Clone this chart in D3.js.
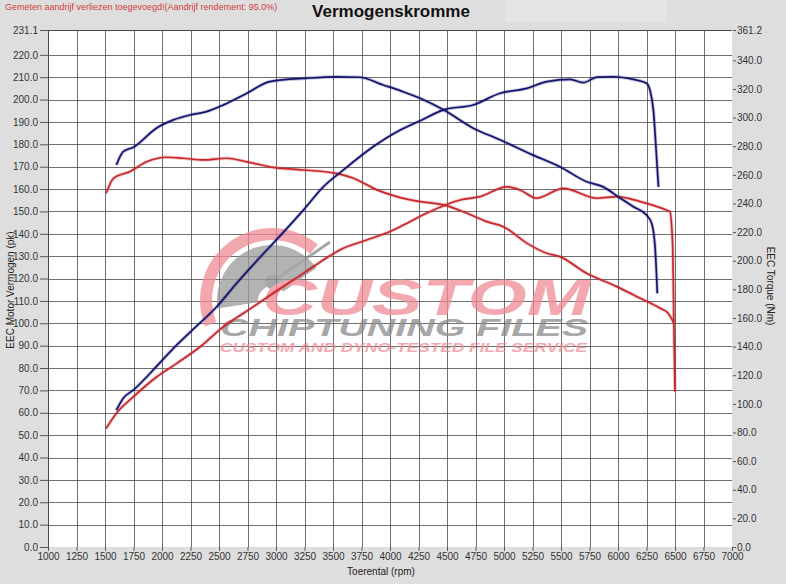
<!DOCTYPE html>
<html>
<head>
<meta charset="utf-8">
<style>
  body { margin: 0; background: #dedede; }
  svg { display: block; font-family: "Liberation Sans", Arial, sans-serif; }
  .tick text { fill: #333; font-size: 10px; }
  .tick line { stroke: #555; }
</style>
</head>
<body>
<svg width="786" height="584"></svg>
<script src="https://d3js.org/d3.v7.min.js"></script>
<script>

// blue = tuned, red = stock ; power in pk (left axis), torque in Nm (right axis)
var bluePowerRpm = [1600, 1660, 1750, 1950, 2100, 2250, 2480, 2655, 2860, 3005, 3240, 3415, 3590, 3855, 4090, 4265, 4470, 4730, 4965, 5200, 5375, 5580, 5695, 5815, 5960, 6135, 6250, 6280, 6310, 6340, 6355];
var bluePower    = [61.2, 66.5, 70.2, 80.6, 88.8, 96.2, 107.4, 117.9, 129.5, 137.4, 150.6, 161.0, 168.5, 179.0, 186.4, 190.5, 195.4, 197.6, 202.8, 205.0, 208.0, 209.0, 207.6, 210.0, 210.2, 209.0, 207.3, 204.3, 195.4, 173.0, 161.0];

var blueTorqueRpm = [1600, 1660, 1750, 1950, 2100, 2245, 2390, 2540, 2745, 2945, 3270, 3530, 3735, 3940, 4100, 4265, 4470, 4730, 4965, 5255, 5490, 5725, 5870, 6020, 6135, 6250, 6295, 6325, 6345];
var blueTorque    = [267.0, 276.2, 279.3, 292.6, 298.4, 301.8, 304.2, 308.9, 317.0, 325.1, 327.5, 328.5, 328.2, 322.8, 318.5, 313.5, 305.4, 292.6, 284.5, 273.8, 265.7, 255.2, 251.6, 243.7, 237.7, 231.9, 226.2, 209.8, 177.2];

var redPowerRpm = [1510, 1600, 1750, 1955, 2130, 2335, 2540, 2715, 2975, 3240, 3415, 3560, 3795, 4000, 4090, 4320, 4615, 4790, 5025, 5140, 5285, 5520, 5815, 5990, 6195, 6425, 6455, 6480, 6490, 6500];
var redPower    = [53.0, 59.8, 67.2, 76.1, 82.1, 89.5, 98.5, 104.5, 113.4, 122.3, 128.3, 132.8, 137.2, 141.0, 143.2, 149.2, 155.1, 156.6, 161.0, 159.6, 155.9, 160.3, 155.9, 156.6, 154.4, 150.6, 149.9, 134.2, 100.0, 69.4];

var redTorqueRpm = [1510, 1575, 1720, 1865, 2040, 2185, 2365, 2565, 2745, 2975, 3240, 3530, 3680, 3885, 4060, 4265, 4470, 4675, 4850, 4995, 5200, 5375, 5490, 5725, 5990, 6195, 6370, 6440, 6490];
var redTorque    = [247.1, 257.6, 262.3, 269.1, 272.3, 271.6, 270.4, 271.6, 269.1, 265.2, 263.4, 261.0, 257.6, 249.5, 244.8, 241.3, 239.0, 233.2, 227.3, 223.8, 212.3, 205.2, 202.9, 191.2, 181.9, 173.8, 166.8, 163.3, 156.5];

var rpmTicks = d3.range(1000, 7001, 250);
var powerTicks = d3.range(0, 221, 10).concat([231.1]);
var torqueTicks = d3.range(0, 341, 20).concat([361.2]);

var svg = d3.select("svg");

var plotL = 48, plotR = 732, plotT = 30, plotB = 547;

var x = d3.scaleLinear().domain([1000, 7000]).range([plotL, plotR]);
var yP = d3.scaleLinear().domain([0, 231.1]).range([plotB, plotT]);
var yT = d3.scaleLinear().domain([0, 361.2]).range([plotB, plotT]);

// title area
svg.append("rect")
    .attr("x", 505).attr("y", 0).attr("width", 162).attr("height", 22)
    .attr("fill", "#e6e3e6");

svg.append("text")
    .attr("x", 5).attr("y", 10)
    .attr("fill", "#d23c3c")
    .style("font-size", "9px")
    .text("Gemeten aandrijf verliezen toegevoegd!(Aandrijf rendement: 95.0%)");

svg.append("text")
    .attr("x", 391).attr("y", 17)
    .attr("text-anchor", "middle")
    .attr("font-weight", "bold")
    .style("font-size", "17px")
    .attr("fill", "#111")
    .text("Vermogenskromme");

// plot background + grid
svg.append("rect")
    .attr("x", plotL).attr("y", plotT)
    .attr("width", plotR - plotL).attr("height", plotB - plotT)
    .attr("fill", "#fff");

var grid = svg.append("g").attr("stroke", "#4a4a4a").attr("stroke-width", 0.8);

grid.selectAll("line.v")
  .data(rpmTicks.slice(0, -1))
  .enter().append("line")
    .attr("x1", function(d) { return Math.round(x(d)) + 0.5; })
    .attr("x2", function(d) { return Math.round(x(d)) + 0.5; })
    .attr("y1", plotT).attr("y2", plotB);

grid.selectAll("line.h")
  .data(powerTicks.slice(1))
  .enter().append("line")
    .attr("x1", plotL).attr("x2", plotR)
    .attr("y1", function(d) { return Math.round(yP(d)) + 0.5; })
    .attr("y2", function(d) { return Math.round(yP(d)) + 0.5; });

// watermark
var wm = svg.append("g").attr("opacity", 0.75);

var cx = 272, cy = 300;
wm.append("path")
    .attr("d", d3.arc().innerRadius(60).outerRadius(72)
      .startAngle(-Math.PI * 0.62).endAngle(Math.PI * 0.22)())
    .attr("transform", "translate(" + cx + "," + cy + ")")
    .attr("fill", "#f08c96");

wm.append("path")
    .attr("d", d3.arc().innerRadius(14).outerRadius(55)
      .startAngle(-Math.PI * 0.55).endAngle(Math.PI * 0.3)())
    .attr("transform", "translate(" + cx + "," + cy + ")")
    .attr("fill", "#9a9a9a");

wm.append("circle")
    .attr("cx", cx).attr("cy", cy - 18).attr("r", 7)
    .attr("fill", "#8a8a8a");

wm.append("line")
    .attr("x1", cx).attr("y1", cy - 18)
    .attr("x2", cx + 58).attr("y2", cy - 58)
    .attr("stroke", "#8a8a8a").attr("stroke-width", 3);

wm.append("text")
    .attr("x", 262).attr("y", 315)
    .attr("font-weight", "bold").attr("font-style", "italic")
    .style("font-size", "50px")
    .attr("textLength", 328).attr("lengthAdjust", "spacingAndGlyphs")
    .attr("fill", "#f08c96")
    .text("CUSTOM");

wm.append("text")
    .attr("x", 220).attr("y", 336)
    .attr("font-weight", "bold").attr("font-style", "italic")
    .style("font-size", "23px")
    .attr("textLength", 368).attr("lengthAdjust", "spacingAndGlyphs")
    .attr("fill", "#8c8c8c")
    .text("CHIPTUNING FILES");

wm.append("text")
    .attr("x", 220).attr("y", 352)
    .attr("font-weight", "bold").attr("font-style", "italic")
    .style("font-size", "13px")
    .attr("textLength", 367).attr("lengthAdjust", "spacingAndGlyphs")
    .attr("fill", "#f08c96")
    .text("CUSTOM AND DYNO-TESTED FILE SERVICE");

// axes
var axL = svg.append("g")
    .attr("transform", "translate(" + plotL + ",0)")
    .call(d3.axisLeft(yP).tickValues(powerTicks).tickSize(8).tickPadding(2).tickFormat(d3.format(".1f")));
axL.select(".domain").attr("stroke", "#4a4a4a");

var axR = svg.append("g")
    .attr("transform", "translate(" + (plotR + 1) + ",0)")
    .call(d3.axisRight(yT).tickValues(torqueTicks).tickSize(3).tickPadding(1).tickFormat(d3.format(".1f")));
axR.select(".domain").remove();

var axB = svg.append("g")
    .attr("transform", "translate(0," + plotB + ")")
    .call(d3.axisBottom(x).tickValues(rpmTicks).tickSize(4).tickPadding(2).tickFormat(d3.format("d")));
axB.select(".domain").remove();

svg.append("line")
    .attr("x1", plotL).attr("x2", plotR)
    .attr("y1", plotT + 0.5).attr("y2", plotT + 0.5)
    .attr("stroke", "#4a4a4a");

svg.append("text")
    .attr("transform", "translate(14,290) rotate(-90)")
    .attr("text-anchor", "middle")
    .style("font-size", "10px").attr("fill", "#222")
    .text("EEC Motor Vermogen (pk)");

svg.append("text")
    .attr("transform", "translate(767,286) rotate(90)")
    .attr("text-anchor", "middle")
    .style("font-size", "10px").attr("fill", "#222")
    .text("EEC Torque (Nm)");

svg.append("text")
    .attr("x", 381).attr("y", 575)
    .attr("text-anchor", "middle")
    .style("font-size", "10px").attr("fill", "#222")
    .text("Toerental (rpm)");

// curves
function drawCurve(rpm, vals, y, color) {
  var pts = rpm.map(function(r, i) { return [r, vals[i]]; });
  var line = d3.line()
      .x(function(d) { return x(d[0]); })
      .y(function(d) { return y(d[1]); })
      .curve(d3.curveMonotoneX);
  svg.append("path")
      .datum(pts)
      .attr("fill", "none")
      .attr("stroke", color)
      .attr("stroke-opacity", 0.25)
      .attr("stroke-width", 3.5)
      .attr("d", line);
  svg.append("path")
      .datum(pts)
      .attr("fill", "none")
      .attr("stroke", color)
      .attr("stroke-width", 1.7)
      .attr("d", line);
}

drawCurve(redPowerRpm, redPower, yP, "#c8282c");
drawCurve(redTorqueRpm, redTorque, yT, "#c8282c");
drawCurve(bluePowerRpm, bluePower, yP, "#14146e");
drawCurve(blueTorqueRpm, blueTorque, yT, "#14146e");

</script>
</body>
</html>
